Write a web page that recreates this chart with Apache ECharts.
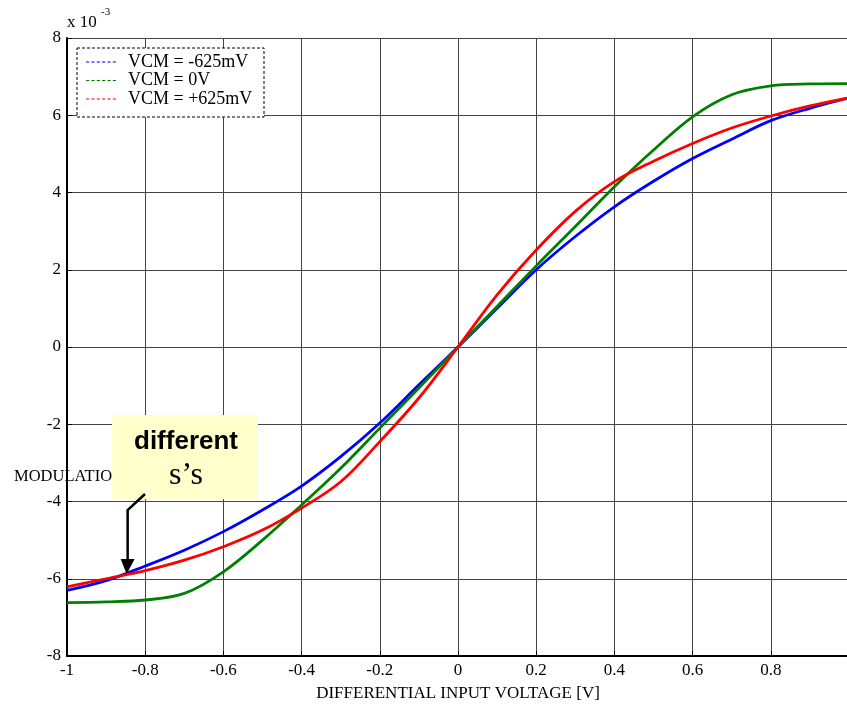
<!DOCTYPE html>
<html>
<head>
<meta charset="utf-8">
<script src="https://cdn.jsdelivr.net/npm/echarts@6/dist/echarts.min.js"></script>
<style>
  html, body { margin: 0; padding: 0; background: #fff; }
  #chart { width: 847px; height: 704px; }
</style>
</head>
<body>
<div id="chart"></div>
<script>
// differential input voltage [V]
var voltage = [-1, -0.9, -0.8, -0.7, -0.6, -0.5, -0.4, -0.3, -0.2, -0.1, 0,
               0.1, 0.2, 0.3, 0.4, 0.5, 0.6, 0.7, 0.8, 0.9, 1];
// modulation current, x 10^-3
var vcmNeg = [-6.30, -6.05, -5.67, -5.26, -4.78, -4.22, -3.60, -2.84, -1.97, -0.98, 0,
              1.00, 2.00, 2.86, 3.63, 4.29, 4.88, 5.38, 5.86, 6.18, 6.45];
var vcmZero = [-6.62, -6.60, -6.55, -6.38, -5.82, -5.00, -4.09, -3.14, -2.10, -1.06, 0,
               1.05, 2.10, 3.12, 4.15, 5.10, 5.96, 6.53, 6.76, 6.81, 6.82];
var vcmPos = [-6.21, -6.00, -5.79, -5.52, -5.17, -4.74, -4.17, -3.49, -2.45, -1.32, 0,
              1.35, 2.51, 3.51, 4.28, 4.81, 5.27, 5.67, 5.98, 6.24, 6.45];
var legendNames = ['VCM = -625mV', 'VCM = 0V', 'VCM = +625mV'];

var serif = 'Liberation Serif';
// short dashed stroke for the legend keys
var dashIcon = 'path://M0,0h3v1h-3z M5,0h3v1h-3z M10,0h3v1h-3z M15,0h3v1h-3z M20,0h3v1h-3z M25,0h3v1h-3z';

function pairs(ys) {
  return voltage.map(function (x, i) { return [x, ys[i]]; });
}

function lineSeries(name, color, ys) {
  return {
    name: name,
    type: 'line',
    data: pairs(ys),
    smooth: 0.35,
    showSymbol: false,
    symbol: 'none',
    itemStyle: { color: color },
    lineStyle: { color: color, width: 2.8 }
  };
}

var chart = echarts.init(document.getElementById('chart'));

var option = {
  backgroundColor: '#fff',
  animation: false,
  grid: { left: 67, top: 38, width: 782, height: 618, outerBoundsMode: 'none' },
  legend: {
    orient: 'vertical',
    left: 86,
    top: 53,
    z: 5,
    icon: dashIcon,
    itemWidth: 30,
    itemHeight: 1.5,
    itemGap: 0.5,
    padding: 0,
    textStyle: { fontFamily: serif, fontSize: 18, lineHeight: 18, color: '#000', padding: [0, 0, 0, 7] },
    data: legendNames
  },
  xAxis: {
    type: 'value',
    min: -1,
    max: 1,
    interval: 0.2,
    name: 'DIFFERENTIAL INPUT VOLTAGE [V]',
    nameLocation: 'middle',
    nameGap: 29,
    nameTextStyle: { fontFamily: serif, fontSize: 17, color: '#000' },
    axisLine: { show: true, onZero: false, lineStyle: { color: '#000', width: 2 } },
    axisTick: { show: true, inside: true, length: 5, lineStyle: { color: '#000' } },
    axisLabel: { fontFamily: serif, fontSize: 17, color: '#000', margin: 6, showMaxLabel: false },
    splitLine: { show: true, lineStyle: { color: '#444', width: 1 } }
  },
  yAxis: {
    type: 'value',
    min: -8,
    max: 8,
    interval: 2,
    axisLine: { show: true, onZero: false, lineStyle: { color: '#000', width: 2 } },
    axisTick: { show: true, inside: true, length: 5, lineStyle: { color: '#000' } },
    axisLabel: { fontFamily: serif, fontSize: 17, color: '#000', margin: 6 },
    splitLine: { show: true, lineStyle: { color: '#444', width: 1 } }
  },
  series: [
    lineSeries(legendNames[0], '#0000ff', vcmNeg),
    lineSeries(legendNames[1], '#008000', vcmZero),
    lineSeries(legendNames[2], '#ff0000', vcmPos)
  ]
};

chart.setOption(option);

// annotation pointing at where the curves meet
var tip = chart.convertToPixel({ gridIndex: 0 }, [-0.85, -5.88]);
var bx = 112, by = 415, bw = 146, bh = 84;

chart.setOption({
  graphic: [
    {
      type: 'text', z: 9,
      x: 14, y: 477,
      style: { text: 'MODULATION CURRENT [A]', fontFamily: serif, fontSize: 16.5, fill: '#000', verticalAlign: 'middle' }
    },
    {
      type: 'rect', z: 3,
      shape: { x: 77, y: 48, width: 187, height: 69 },
      style: { fill: '#fff', stroke: '#000', lineWidth: 1, lineDash: [3, 2] }
    },
    {
      type: 'text', z: 4,
      x: 67, y: 23,
      style: { text: 'x 10', fontFamily: serif, fontSize: 17, fill: '#000', verticalAlign: 'middle' }
    },
    {
      type: 'text', z: 4,
      x: 101, y: 12,
      style: { text: '-3', fontFamily: serif, fontSize: 11, fill: '#000', verticalAlign: 'middle' }
    },
    {
      type: 'rect', z: 10,
      shape: { x: bx, y: by, width: bw, height: bh },
      style: { fill: '#ffffcc' }
    },
    {
      type: 'text', z: 11,
      x: bx + bw / 2 + 1, y: 442,
      style: {
        text: 'different', fontFamily: 'Liberation Sans', fontWeight: 'bold',
        fontSize: 26, fill: '#000', align: 'center', verticalAlign: 'middle'
      }
    },
    {
      type: 'text', z: 11,
      x: bx + bw / 2 + 1, y: 476,
      style: {
        text: 's’s', fontFamily: serif,
        fontSize: 32, fill: '#000', align: 'center', verticalAlign: 'middle'
      }
    },
    {
      type: 'polyline', z: 12,
      shape: { points: [[145, 494], [tip[0] + 2, 510], [tip[0] + 2, tip[1] - 14]] },
      style: { stroke: '#000', lineWidth: 2.5, fill: null }
    },
    {
      type: 'polygon', z: 12,
      shape: { points: [[tip[0] - 5, tip[1] - 15], [tip[0] + 9, tip[1] - 15], [tip[0] + 1, tip[1]]] },
      style: { fill: '#000' }
    }
  ]
});
</script>
</body>
</html>
